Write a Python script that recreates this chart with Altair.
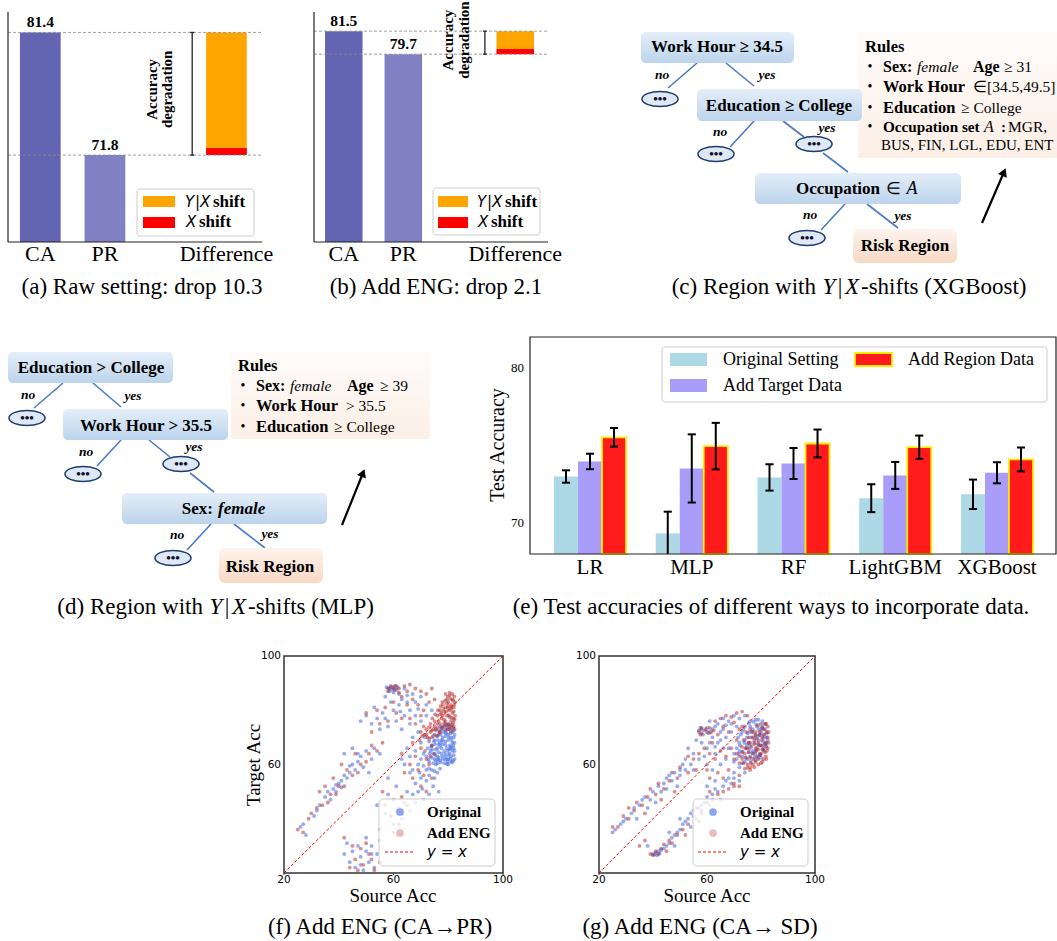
import altair as alt
import pandas as pd

W, H = 1057, 941
SERIF = "Liberation Serif"
SANS = "DejaVu Sans"

# ------------------------------------------------------------------ data
# (a) / (b) accuracy drop bars
bar_labels = ["CA", "PR", "Difference"]
bar_pos = [0.0, 1.0, 2.88]
a_vals = [81.4, 71.8]          # source CA, target PR
a_xshift = 0.55                # red part of the difference bar
b_vals = [81.5, 79.7]
b_xshift = 0.4
ab_ylim = [65, 83]
ab_xlim = [-0.5, 3.43]
bar_colors = ["#6365b3", "#8081c2"]

# (e) test accuracies
models = ["LR", "MLP", "RF", "LightGBM", "XGBoost"]
orig_mean = [73.0, 69.33, 72.94, 71.6, 71.85]
orig_err = [0.4, 1.4, 0.85, 0.9, 0.95]
target_mean = [73.97, 73.52, 73.84, 73.07, 73.24]
target_err = [0.5, 2.2, 1.0, 0.87, 0.68]
region_mean = [75.53, 74.96, 75.13, 74.89, 74.1]
region_err = [0.6, 1.5, 0.9, 0.75, 0.77]
e_ylim = [68, 82]
e_yticks = [70, 80]
e_series = ["Original Setting", "Add Target Data", "Add Region Data"]

# (f) CA -> PR  (source acc, target acc)
f_orig = [
    (80,62),(81,63),(80.5,64),(81.5,65),(79,63),(78,62),(77,61.5),(79.5,66),(80.5,67),(81.5,68),
    (81,70),(80,71),(81.5,72),(80.5,73),(79,72),(78,70),(77,68),(76,66),(78.5,65),(77.5,64),
    (76,63),(75,62),(74.5,64),(75.5,65.5),(76.5,67.5),(77.5,69),(79,68.5),(80,69),(82,66),(82,70),
    (79.5,74),(78,73.5),(76.5,71),(75,69),(74,67),(73.5,65),(74,62.5),(76,60.5),(78.5,60.5),(80,60),
    (81,61),(82,63.5),(82,72.5),(81,74.5),(79,75),(77,74),(75.5,72.5),(74.5,70.5),(73,68.5),(72.5,66),
    (72,63),(73,61),(75.5,60),(77.5,66),(79,70.5),(80.5,65.5),(78,67.5),(76.5,64.5),(81,66.5),(79.5,62),
    (81.8,61.5),(80.8,62.2),(79.8,61),(78.8,61.8),(77.8,63),(78.8,64),(79.8,65),(80.8,66),(81.8,67),
    (81.2,69),(80.2,70),(79.2,71.5),(78.2,72),(77.2,71),(76.2,69),(75.2,67.5),(74.2,65.5),(75.2,63.5),
    (76.2,61.8),(77.2,60.8),(79.5,60.2),(81.5,60.8),(82.3,62),(82.3,65),(82.3,68),(82.3,71),(81.8,73.5),
    (80.2,74.8),(78.6,74.2),(77.6,73),(76.8,72.5),(75.8,70.5),(74.8,68.5),(73.8,66.5),(73.2,64),(72.8,62),
    (80,63.5),(79,67.2),(77,66.8),(78,68.8),(80.8,71.5),(79.6,73),(76.5,62.5),(75.5,61.5),(74.5,60.5),
    (70,62),(71,64),(69,60),(72,58),(68,65),(70,68),(66,63),(71.5,70),(73,56),(74,58),(69.5,57),
    (67,58),(72,54),(75,55),(76,57),(74.5,52),(70.5,51),(68,53),(73,49),(76.5,50),(71,47),(66,57),
    (64,60),(65,66),(67,70),(69,72),(63,62),(71,59.5),(73,58.5),(75,57.5),(77,58.5),(70,55),
    (58,88),(59,88.5),(60,88),(61,87.5),(58.5,87),(60,86.5),(62,86),(57,85),(63,84),(65,83),(62,82),
    (60,80),(66,80),(64,78),(68,78),(61,76),(56,79),(54,77),(52,75),(55,73),(58,74),(63,73),(66,75),
    (70,76),(72,78),(67,86),(70,85),(64,88),(72,82),(74,80),(50,78),(48,76),(53,81),(59,83),
    (57.5,88.5),(59.5,87.5),(61.5,88.5),(60.5,89),(65,85.5),(68,83),(62.5,79.5),(57,77),(69,80.5),
    (26,37),(27,38),(28,34),(32,43),(33,45),(31,41),(35,48),(36,50),(38,51),(40,53),(41,54),(42,56),
    (44,57),(43,55),(46,58),(39,50),(37,47),(45,60),(47,61),(48,63),(50,65),(52,62),(49,59),(53,66),
    (55,64),(42,64),(45,66),(51,57),(39,52.5),(41,51.5),(44,59.5),(47,64),
    (58,49),(60,47),(62,44),(64,46),(63,40),(66,43),(60,38),(57,42),(55,36),(61,52),(65,50),(68,46),
    (58,55),(54,45),(67,49),(69,50),
    (44,24),(46,22),(48,26),(50,28),(51,24),(52,30),(47,30),(45,28),(53,22),(49,21),(54,27),(43,31),
    (42,27),(50,33),(55,32),(48,23),(52,27),
]
f_eng = [
    (80,75),(81,76),(82,77),(81.5,79),(80.5,80),(82,81),(81,82),(80,83),(81.5,84),(80.5,85.5),
    (79.5,84),(79,81),(78,78),(79,76),(78,74),(77,72),(76,73.5),(75,71),(74,72.5),(76.5,76),
    (77.5,79),(79.5,78),(80,73),(81,73.5),(82,74),(82.5,78),(82.5,83),(79,86),(78,82),(77,80),
    (76,78),(75,76),(73.5,75),(72,73),(72,71),(73,69.5),(71,74),(70,72),(80.5,77.5),(78.5,79.5),
    (81,80.5),(79.5,82.5),(77,75),(75.5,73),(74,70),(76,70.5),(82,79.5),(80,81.5),(78.5,76.5),(77.5,77),
    (81.8,75.5),(82.3,76.5),(81.2,77.2),(80.2,78.2),(79.2,79.5),(78.2,80.5),(77.2,81.5),(79.8,80.8),
    (81.2,81.2),(82.2,82),(81.8,83.5),(80.8,84.2),(79.8,85),(80.5,86.5),(81.5,86),(82.2,85),(78.8,83.5),
    (77.8,83),(77,78.5),(76,75),(75,74),(74.5,73),(73.5,72),(73,73.8),(76.2,80),(75.2,78.5),(74.2,77),
    (78.5,75.2),(79.5,74.5),(80.5,74),(81.5,74.8),(82.3,73),(81,72.2),(79,72.8),(77.5,73.5),(76.8,71.8),
    (72.5,70),(71.5,71),(70.5,70.5),(69.5,69),
    (59,89),(60,88.5),(61,89),(58,87),(62,88),(64,89),(66,89.5),(68,88),(70,87),(72,86),(74,88),
    (63,85),(65,82),(67,84),(69,82),(71,80),(60,83),(57,81),(61,79),(63,77),(66,77),(68,75),(55,75),
    (52,72),(50,79),(54,80),(58,76),(70,78),(73,83),(75,84),(65,87),(58.5,88),(60.5,87.5),(62,86.5),
    (70,66),(68,63),(72,62),(69,58),(71,56),(73,60),(66,60),(67,55),(70,52),(74,55),(72,50),(64,57),
    (63,64),(67,68),(75,64),(74,67),(71.5,65),(73.5,63),
    (25,36),(27,35),(29,40),(30,42),(32,44),(34,45),(36,46),(37,49),(39,49),(40,52),(42,52),(43,58),
    (45,56),(47,57),(48,60),(50,61),(51,64),(52,67),(54,65),(46,64),(41,60),(38,55),(35,52),(33,50),
    (56,68),
    (57,45),(59,41),(61,43),(63,48),(65,45),(60,35),(62,38),(56,50),
    (44,22),(46,25),(47,21),(49,23),(51,27),(52,25),(48,29),(50,31),(53,21),(45,30),(55,24),(42,33),
]

# (g) CA -> SD
g_orig = [
    (80,72),(81,71),(82,70),(81.5,68),(80.5,67),(79,69),(78,71),(77,73),(76,74),(79,74.5),(80.5,74),
    (78.5,66),(77,65),(76,63),(75,62),(74,61),(73,63),(72,65),(74.5,66),(75.5,68),(76.5,70),(75,71.5),
    (73.5,69),(72,68),(71,66),(70,64),(73,72),(71.5,70),(74,74),(76,76),(78,76.5),(77.5,68),(79.5,64),
    (80,62.5),(78,61.5),(81,65),(82,66.5),(79,70.5),(77.5,62.5),(75.5,64.5),(73,60.5),(71,62),
    (81.5,73),(82.2,71.5),(82.5,69),(81.8,67),(80.8,65.5),(79.8,63.5),(78.8,62.5),(77.8,63.8),(76.8,64.2),
    (75.8,65.8),(74.8,67.2),(73.8,68),(74.8,70),(75.8,72),(76.8,72),(77.8,69.8),(78.8,67.5),(79.8,67),
    (80.8,68.5),(80.2,73.2),(79.2,73),(78.2,74.8),(77.2,75.8),(75.5,75.2),(73.5,73),(72.5,71),(72.2,67),
    (71.8,64),(73.2,64.8),(74.2,62.5),(76.2,61.2),(80.5,76),(79,76.5),(81.5,75),(76,67),(78,64.8),
    (79.8,70.8),(81,69.8),
    (57,72),(58,73),(59,72.5),(60,73.5),(61,72),(62,73),(58.5,71),(60.5,71.5),(63,74),(57.5,73.5),
    (64,75),(66,77),(68,76),(70,78),(72,77),(65,72),(67,70),(69,72),(66,66),(64,68),(62,70),(68,66),
    (70,61),(67,62),(63,64),(60,66),(58,68),(56,69),(55,64),(53,66),(52,62),(57,62),(60,60),(62,58),
    (65,60),(70,57),(72,59),(74,57),(68,55),(63,54),(54,60),(50,58),(66,73),(61,76),(71,74),(74,78),
    (67,74.5),(69,75),(65,69),(63,66.5),(61,68),(59,63),
    (25,35),(26,36),(28,38),(29,39),(30,40),(32,42),(33,44),(35,45),(36,47),(37,48),(39,47),(40,50),
    (42,52),(43,50),(44,53),(45,55),(46,56),(47,54),(48,57),(50,56),(51,60),(52,58),(34,40),(38,44),
    (41,46),(45,51),(49,52),(55,58),
    (40,27),(41,27.5),(42,28),(43,28.5),(41.5,26.5),(44,29),(45,30),(46,31),(47,33),(48,34),(49,35),
    (50,36),(51,38),(52,39),(53,40),(54,42),(55,43),(57,44),(58,45),(59,46),(60,48),(62,49),(63,51),
    (64,50),(66,52),(67,54),(69,53),(70,55),(72,54),(56,40),(58,42),(61,45),(65,47),(46,35),(50,40),
    (54,37),(60,52),(38,30),(48,30),(40.5,26.8),(42.5,27.2),
]
g_eng = [
    (81,73),(82,72),(82.5,70),(82,68),(81,66),(80,64),(79,62),(78,61),(77,60),(76,59),(75,60),
    (74,58.5),(80.5,70),(79.5,72),(78.5,74),(80,75),(78,72),(77,70),(76,68),(75,66),(74,64),(73,62),
    (72,60.5),(79,68),(78,66),(77,64),(76,62.5),(80,67),(81.5,64.5),(82.5,66),(79,65.5),(77.5,67.5),
    (75.5,70),(74,69),(73,66.5),(71,64),(70,62),(76,73),(74.5,72),(82,75),(80.5,61),(78.5,63),
    (82.8,72),(82.8,68),(82.2,65),(81.8,63),(81,62),(80,60.5),(79,60),(77.5,59),(76,58),(75,58.8),
    (82.5,74),(81.5,75),(80.5,73.5),(79.5,71),(78.5,69.5),(77.5,68.8),(76.5,66.5),(75.5,64.5),(74.5,62.5),
    (73.5,60.5),(81.2,71),(80.2,69),(79.2,67),(78.2,65),(77.2,62),(76.2,60.5),(82,62),(80.5,65.5),
    (79.5,63.5),(81.5,67.5),(78,70.8),(76.8,72),(75.3,68),(74.2,66),(73,64.5),(72,63),
    (57,72.5),(58,73.5),(59.5,73),(61,73.5),(62.5,72.5),(58,71.5),(60,72),(57.5,71),(61.5,71.8),
    (63,76),(65,77),(67,78),(69,77.5),(71,79),(73,79.5),(75,78),(66,74),(68,72),(64,71),(62,68),
    (65,65),(67,63),(69,66),(71,69),(63,62),(61,64),(59,66),(57,64),(55,62),(53,63),(60,58),(64,57),
    (68,58),(72,56),(70,53),(66,55),(61,55),(56,58),(73,74),(70,75.5),(72,73),
    (25,37),(27,37),(29,41),(31,40),(33,43),(34,46),(36,45),(38,48),(39,51),(41,49),(42,53),(44,51),
    (46,54),(47,57),(49,55),(50,59),(53,57),(31,44),(37,42),(43,47),(48,50),
    (39,27),(40,26.5),(41,28),(42,27),(43,29),(44,30.5),(46,32),(47,31),(49,34),(51,36),(53,38),
    (55,41),(56,44),(58,43),(60,46),(62,47),(64,49),(66,50),(68,51),(70,52),(72,52),(52,34),(57,39),
    (61,50),(45,28),(35,30),(37,32),
]
sc_lim = [20, 100]
sc_xticks = [20, 60, 100]
sc_yticks = [60, 100]

# tree diagrams (panel-pixel coordinates of the drawn nodes)
c_nodes = [(641, 32, 794, 63), (697, 89, 862, 121), (755, 173, 961, 204)]
c_risk = [(853, 229, 957, 263)]
c_ellipses = [(660, 99), (716, 154), (814, 144), (807, 238)]
c_edges = [(697, 63, 668, 88), (726, 63, 754, 86), (754, 121, 730, 147), (783, 121, 804, 137),
           (823, 153, 848, 172), (845, 204, 821, 230), (867, 204, 898, 228)]
c_no = [(662, 75), (720, 132), (810, 215)]
c_yes = [(767, 75), (827, 128), (903, 216)]
d_nodes = [(8, 352, 173, 383), (63, 409, 228, 440), (122, 493, 327, 524)]
d_risk = [(219, 548, 323, 583)]
d_ellipses = [(27, 418), (83, 474), (181, 464), (173, 558)]
d_edges = [(63, 383, 34, 408), (93, 383, 121, 407), (121, 440, 97, 466), (149, 440, 170, 457),
           (190, 473, 214, 492), (211, 524, 187, 550), (234, 524, 265, 548)]
d_no = [(28, 395), (86, 452), (177, 535)]
d_yes = [(133, 396), (194, 447), (270, 534)]

# ------------------------------------------------------------------ helpers
def qx(field, dom, rng):
    return alt.X(f"{field}:Q", scale=alt.Scale(domain=list(dom), range=list(rng), nice=False, zero=False), axis=None)

def qy(field, dom, rng):
    return alt.Y(f"{field}:Q", scale=alt.Scale(domain=list(dom), range=list(rng), nice=False, zero=False), axis=None)

def CX(f):
    return qx(f, [0, W], [0, W])

def CY(f):
    return qy(f, [0, H], [0, H])

def txt(rows, **kw):
    df = pd.DataFrame(rows, columns=["x", "y", "t"])
    base = dict(font=SERIF, fontSize=16, align="center", baseline="middle", color="black")
    base.update(kw)
    return alt.Chart(df).mark_text(**base).encode(x=CX("x"), y=CY("y"), text="t:N")

def boxes(rows, **kw):
    df = pd.DataFrame(rows, columns=["x", "y", "x2", "y2"])
    return alt.Chart(df).mark_rect(**kw).encode(x=CX("x"), y=CY("y"), x2=alt.X2("x2"), y2=alt.Y2("y2"))

def segs(rows, **kw):
    df = pd.DataFrame(rows, columns=["x", "y", "x2", "y2"])
    return alt.Chart(df).mark_rule(**kw).encode(x=CX("x"), y=CY("y"), x2=alt.X2("x2"), y2=alt.Y2("y2"))

def pts(rows, mark="point", **kw):
    df = pd.DataFrame(rows, columns=["x", "y"])
    ch = alt.Chart(df)
    m = ch.mark_point(**kw) if mark == "point" else ch.mark_circle(**kw)
    return m.encode(x=CX("x"), y=CY("y"))

def grad(c1, c2):
    return alt.Gradient(gradient="linear", x1=0, x2=0, y1=0, y2=1,
                        stops=[alt.GradientStop(color=c1, offset=0), alt.GradientStop(color=c2, offset=1)])

layers = []

# ------------------------------------------------------------------ (a), (b)
def bar_panel(x0, x1, vals, xshift, arrow_x, deg_x, deg_y):
    X = lambda f: qx(f, ab_xlim, [x0, x1])
    Y = lambda f: qy(f, ab_ylim, [242, 12])
    hw = 0.315
    src, tgt = vals
    out = []
    bars = pd.DataFrame({"l": [bar_pos[0] - hw, bar_pos[1] - hw], "r": [bar_pos[0] + hw, bar_pos[1] + hw],
                         "v": vals, "b": [ab_ylim[0]] * 2, "c": bar_colors})
    out.append(alt.Chart(bars).mark_rect().encode(x=X("l"), x2="r:Q", y=Y("v"), y2="b:Q",
                                                  color=alt.Color("c:N", scale=None)))
    diff = pd.DataFrame({"l": [bar_pos[2] - hw] * 2, "r": [bar_pos[2] + hw] * 2,
                         "lo": [tgt, tgt + xshift], "hi": [tgt + xshift, src],
                         "c": ["#ff0000", "#ffa500"]})
    out.append(alt.Chart(diff).mark_rect().encode(x=X("l"), x2="r:Q", y=Y("lo"), y2="hi:Q",
                                                  color=alt.Color("c:N", scale=None)))
    dash = pd.DataFrame({"a": [ab_xlim[0]] * 2, "b": [ab_xlim[1]] * 2, "v": vals})
    out.append(alt.Chart(dash).mark_rule(color="#8a8a8a", strokeDash=[3, 2], strokeWidth=0.8)
               .encode(x=X("a"), x2="b:Q", y=Y("v")))
    spine = pd.DataFrame({"x": [ab_xlim[0], ab_xlim[0]], "y": [ab_ylim[0], ab_ylim[0]],
                          "x2": [ab_xlim[0], ab_xlim[1]], "y2": [ab_ylim[1], ab_ylim[0]]})
    out.append(alt.Chart(spine).mark_rule(color="#222", strokeWidth=1.2)
               .encode(x=X("x"), x2="x2:Q", y=Y("y"), y2="y2:Q"))
    arr = pd.DataFrame({"x": [arrow_x], "lo": [tgt], "hi": [src]})
    out.append(alt.Chart(arr).mark_rule(color="#222", strokeWidth=1.3).encode(x=X("x"), y=Y("lo"), y2="hi:Q"))
    caps = pd.DataFrame({"a": [arrow_x - 0.03] * 2, "b": [arrow_x + 0.03] * 2, "v": [tgt, src]})
    out.append(alt.Chart(caps).mark_rule(color="#222", strokeWidth=1.3).encode(x=X("a"), x2="b:Q", y=Y("v")))
    lab = pd.DataFrame({"x": bar_pos[:2], "v": vals, "t": [f"{v:.1f}" for v in vals]})
    out.append(alt.Chart(lab).mark_text(font=SERIF, fontSize=15.5, fontWeight="bold", baseline="bottom", dy=-2)
               .encode(x=X("x"), y=Y("v"), text="t:N"))
    xl = pd.DataFrame({"x": bar_pos, "t": bar_labels})
    out.append(alt.Chart(xl).mark_text(font=SERIF, fontSize=22, baseline="middle")
               .encode(x=X("x"), y=alt.value(254), text="t:N"))
    deg = pd.DataFrame({"x": deg_x, "v": [deg_y] * 2, "t": ["Accuracy", "degradation"]})
    out.append(alt.Chart(deg).mark_text(font=SERIF, fontSize=15, fontWeight="bold", angle=270,
                                        baseline="middle", align="center")
               .encode(x=X("x"), y=Y("v"), text="t:N"))
    return out

layers += bar_panel(8, 262, a_vals, a_xshift, 2.35, [1.73, 1.96], 76.95)
layers += bar_panel(314, 548, b_vals, b_xshift, 2.37, [1.75, 2.02], 80.8)

# legends of (a), (b)
layers.append(boxes([(137, 189, 254, 236), (433, 188, 540, 235)], fill="white", stroke="#cccccc",
                    strokeWidth=1, cornerRadius=3))
layers.append(boxes([(143, 196, 175, 207), (438, 196, 468, 207)], color="#ffa500"))
layers.append(boxes([(143, 217, 175, 228), (438, 217, 468, 228)], color="#ff0000"))
layers.append(txt([(185, 202, "Y"), (200, 202, "X"), (186, 222, "X"),
                   (477, 202, "Y"), (492, 202, "X"), (478, 222, "X")],
                  font=SANS, fontStyle="italic", fontSize=15, align="left"))
layers.append(txt([(195, 202, "|"), (487, 202, "|")], font=SANS, fontSize=15, align="left"))
layers.append(txt([(213, 202, "shift"), (199, 222, "shift"), (505, 202, "shift"), (491, 222, "shift")],
                  fontWeight="bold", fontSize=17, align="left"))

# ------------------------------------------------------------------ tree diagrams (c), (d)
node_grad = grad("#e4eef9", "#bcd4ec")
risk_grad = grad("#fdf4ef", "#f8d8c4")
rules_grad = grad("#fefcfb", "#fcefe6")

layers.append(boxes([(858, 32, 1057, 158), (231, 352, 430, 439)], fill=rules_grad))
layers.append(segs(c_edges + d_edges, color="#4a7bc8", strokeWidth=1.6))
layers.append(boxes(c_nodes + d_nodes, fill=node_grad, cornerRadius=5))
layers.append(boxes(c_risk + d_risk, fill=risk_grad, cornerRadius=6))
ELLIPSE = "M-1,0A1,0.42,0,1,0,1,0A1,0.42,0,1,0,-1,0Z"
layers.append(pts(c_ellipses + d_ellipses, shape=ELLIPSE, size=1300, filled=True, fill="#dfe9f6",
                  stroke="#1f3c6e", strokeWidth=1.5, opacity=1))
layers.append(txt([(x, y, "•••") for x, y in c_ellipses + d_ellipses], fontSize=13, fontWeight="bold",
                  color="#101030"))
layers.append(txt([(x, y, "no") for x, y in c_no + d_no] + [(x, y, "yes") for x, y in c_yes + d_yes],
                  fontSize=13.5, fontWeight="bold", fontStyle="italic"))
layers.append(txt([(717, 47, "Work Hour ≥ 34.5"), (779, 106, "Education ≥ College"),
                   (905, 246, "Risk Region"), (91, 368, "Education > College"),
                   (146, 426, "Work Hour > 35.5"), (270, 567, "Risk Region")],
                  fontSize=17, fontWeight="bold"))
layers.append(txt([(880, 189, "Occupation"), (213, 509, "Sex:")], fontSize=17, fontWeight="bold", align="right"))
layers.append(txt([(893, 189, "∈")], fontSize=17))
layers.append(txt([(912, 189, "A")], fontSize=18, fontStyle="italic"))
layers.append(txt([(218, 509, "female")], fontSize=17, fontWeight="bold", fontStyle="italic", align="left"))

# rule boxes text
layers.append(txt([(865, 47, "Rules"), (883, 87, "Work Hour"), (883, 108, "Education"),
                   (238, 366, "Rules"), (256, 406, "Work Hour"), (256, 427, "Education")],
                  fontSize=16.5, fontWeight="bold", align="left"))
layers.append(txt([(883, 67, "Sex:"), (973, 67, "Age"), (256, 386, "Sex:"), (347, 386, "Age")],
                  fontSize=16, fontWeight="bold", align="left"))
layers.append(txt([(883, 127, "Occupation set"), (1001, 127, ":")],
                  fontSize=15.2, fontWeight="bold", align="left"))
layers.append(txt([(917, 67, "female"), (290, 386, "female")], fontSize=15.5, fontStyle="italic", align="left"))
layers.append(txt([(984, 127, "A")], fontSize=16, fontStyle="italic", align="left"))
layers.append(txt([(1004, 67, "≥ 31"), (973, 87, "∈[34.5,49.5]"), (961, 108, "≥ College"),
                   (1008, 127, "MGR,"),
                   (380, 386, "≥ 39"), (346, 406, "> 35.5"), (334, 427, "≥ College")],
                  fontSize=15.5, align="left"))
layers.append(txt([(881, 145, "BUS, FIN, LGL, EDU, ENT")], fontSize=15, align="left"))
layers.append(txt([(870, y, "•") for y in [67, 87, 108, 127]] + [(243, y, "•") for y in [386, 406, 427]],
                  fontSize=14))

# arrows
layers.append(segs([(982, 223, 1004, 172), (342, 525, 363, 473)], color="black", strokeWidth=2.2))
layers.append(pts([(1004, 172)], shape="triangle-up", size=90, filled=True, color="black", opacity=1, angle=23))
layers.append(pts([(363, 473)], shape="triangle-up", size=90, filled=True, color="black", opacity=1, angle=22))

# ------------------------------------------------------------------ (e)
EX = lambda f: qx(f, [-0.59, 4.58], [530, 1056])
EY = lambda f: qy(f, e_ylim, [554, 337])
bw = 0.236
rows = []
for si, (means, errs) in enumerate([(orig_mean, orig_err), (target_mean, target_err), (region_mean, region_err)]):
    for i, m in enumerate(models):
        c = i + (si - 1) * bw
        rows.append(dict(s=e_series[si], c=c, l=c - bw / 2, r=c + bw / 2, v=means[i], e=errs[i], b=e_ylim[0]))
edf = pd.DataFrame(rows)
ecolors = {"Original Setting": "#add8e6", "Add Target Data": "#a99df9"}
for s, col in ecolors.items():
    layers.append(alt.Chart(edf[edf.s == s]).mark_rect(color=col)
                  .encode(x=EX("l"), x2="r:Q", y=EY("v"), y2="b:Q"))
layers.append(alt.Chart(edf[edf.s == "Add Region Data"]).mark_rect(fill="#ff1b1b", stroke="#ffec00", strokeWidth=1.8)
              .encode(x=EX("l"), x2="r:Q", y=EY("v"), y2="b:Q"))
err = alt.Chart(edf).transform_calculate(lo=f"max(datum.v - datum.e, {e_ylim[0]})", hi="datum.v + datum.e",
                                         lo_raw="datum.v - datum.e", cl="datum.c - 0.04", cr="datum.c + 0.04")
layers.append(err.mark_rule(color="black", strokeWidth=2).encode(x=EX("c"), y=EY("lo"), y2="hi:Q"))
layers.append(err.mark_rule(color="black", strokeWidth=2).encode(x=EX("cl"), x2="cr:Q", y=EY("hi")))
layers.append(err.transform_filter(f"datum.lo_raw >= {e_ylim[0]}").mark_rule(color="black", strokeWidth=2)
              .encode(x=EX("cl"), x2="cr:Q", y=EY("lo")))
frame_e = pd.DataFrame({"x": [-0.59], "x2": [4.58], "y": [e_ylim[0]], "y2": [e_ylim[1]]})
layers.append(alt.Chart(frame_e).mark_rect(fillOpacity=0, stroke="#222", strokeWidth=1.2)
              .encode(x=EX("x"), x2="x2:Q", y=EY("y"), y2="y2:Q"))
yt = pd.DataFrame({"v": e_yticks, "t": [str(v) for v in e_yticks]})
layers.append(alt.Chart(yt).mark_text(font=SERIF, fontSize=13, align="right", baseline="middle")
              .encode(x=alt.value(524), y=EY("v"), text="t:N"))
xt = pd.DataFrame({"c": list(range(len(models))), "t": models})
layers.append(alt.Chart(xt).mark_text(font=SERIF, fontSize=21, baseline="middle")
              .encode(x=EX("c"), y=alt.value(568), text="t:N"))
layers.append(txt([(498, 445, "Test Accuracy")], fontSize=20, angle=270))
layers.append(boxes([(662, 347, 1047, 402)], fill="white", stroke="#cccccc", strokeWidth=1, cornerRadius=3))
layers.append(boxes([(670, 353, 707, 366)], color="#add8e6"))
layers.append(boxes([(670, 379, 707, 392)], color="#a99df9"))
layers.append(boxes([(855, 353, 892, 366)], fill="#ff1b1b", stroke="#ffec00", strokeWidth=1.8))
layers.append(txt([(723, 360, e_series[0]), (723, 386, e_series[1]), (908, 360, e_series[2])],
                  fontSize=18, align="left"))

# ------------------------------------------------------------------ (f), (g)
def scatter_panel(x0, x1, orig, eng, ylab_x):
    SX = lambda f: qx(f, sc_lim, [x0, x1])
    SY = lambda f: qy(f, sc_lim, [873, 656])
    out = []
    o = pd.DataFrame(orig, columns=["a", "b"])
    e = pd.DataFrame(eng, columns=["a", "b"])
    out.append(alt.Chart(o).mark_circle(size=15, color="#4169e1", opacity=0.55).encode(x=SX("a"), y=SY("b")))
    out.append(alt.Chart(e).mark_circle(size=15, color="#b22222", opacity=0.5).encode(x=SX("a"), y=SY("b")))
    diag = pd.DataFrame({"a": [sc_lim[0]], "b": [sc_lim[0]], "a2": [sc_lim[1]], "b2": [sc_lim[1]]})
    out.append(alt.Chart(diag).mark_rule(color="#ff0000", strokeDash=[3, 2], strokeWidth=1)
               .encode(x=SX("a"), y=SY("b"), x2="a2:Q", y2="b2:Q"))
    fr = pd.DataFrame({"a": [sc_lim[0]], "a2": [sc_lim[1]], "b": [sc_lim[0]], "b2": [sc_lim[1]]})
    out.append(alt.Chart(fr).mark_rect(fillOpacity=0, stroke="#333", strokeWidth=1.5)
               .encode(x=SX("a"), x2="a2:Q", y=SY("b"), y2="b2:Q"))
    xt = pd.DataFrame({"a": sc_xticks, "t": [str(v) for v in sc_xticks]})
    out.append(alt.Chart(xt).mark_text(font=SANS, fontSize=10.5, baseline="middle")
               .encode(x=SX("a"), y=alt.value(880), text="t:N"))
    out.append(alt.Chart(xt).mark_rule(color="#333", strokeWidth=1)
               .encode(x=SX("a"), y=alt.value(873), y2=alt.value(875)))
    yt = pd.DataFrame({"b": sc_yticks, "t": [str(v) for v in sc_yticks]})
    out.append(alt.Chart(yt).mark_text(font=SANS, fontSize=10.5, baseline="middle", align="right")
               .encode(x=alt.value(ylab_x), y=SY("b"), text="t:N"))
    return out

layers += scatter_panel(284, 503, f_orig, f_eng, 281)
layers += scatter_panel(599, 815, g_orig, g_eng, 596)
layers.append(txt([(393, 896, "Source Acc"), (707, 896, "Source Acc")], fontSize=19))
layers.append(txt([(254, 765, "Target Acc")], fontSize=19, angle=270))
# scatter legends
layers.append(boxes([(379, 799, 495, 866), (693, 799, 808, 866)], fill="white", fillOpacity=0.8,
                    stroke="#cccccc", strokeWidth=1, cornerRadius=4))
layers.append(pts([(400, 812), (713, 812)], mark="circle", size=60, color="#4169e1", opacity=0.6))
layers.append(pts([(400, 833), (713, 833)], mark="circle", size=60, color="#b22222", opacity=0.3))
layers.append(segs([(385, 852, 415, 852), (698, 852, 728, 852)], color="#ff0000", strokeDash=[3, 2], strokeWidth=1))
layers.append(txt([(427, 812, "Original"), (427, 833, "Add ENG"), (740, 812, "Original"), (740, 833, "Add ENG")],
                  fontSize=15, fontWeight="bold", align="left"))
layers.append(txt([(427, 852, "y = x"), (740, 852, "y = x")], font=SANS, fontSize=15, fontStyle="italic",
                  align="left"))

# ------------------------------------------------------------------ captions
layers.append(txt([(142, 287, "(a) Raw setting: drop 10.3"), (436, 287, "(b) Add ENG: drop 2.1"),
                   (771, 607, "(e) Test accuracies of different ways to incorporate data."),
                   (380, 927, "(f) Add ENG (CA→PR)"), (700, 927, "(g) Add ENG (CA→ SD)")], fontSize=23))
layers.append(txt([(816, 287, "(c) Region with"), (203, 607, "(d) Region with")], fontSize=23, align="right"))
layers.append(txt([(829, 287, "Y"), (852, 287, "X"), (216, 607, "Y"), (239, 607, "X")], fontSize=23,
                  fontStyle="italic"))
layers.append(txt([(840, 287, "|"), (227, 607, "|")], fontSize=23))
layers.append(txt([(861, 287, "-shifts (XGBoost)"), (248, 607, "-shifts (MLP)")], fontSize=23, align="left"))

chart = (
    alt.layer(*layers)
    .resolve_scale(x="independent", y="independent")
    .properties(width=W, height=H, padding=0, autosize="none", background="white")
    .configure_view(stroke=None)
)
chart.save("out.html", embed_options={"renderer": "svg", "actions": False})
